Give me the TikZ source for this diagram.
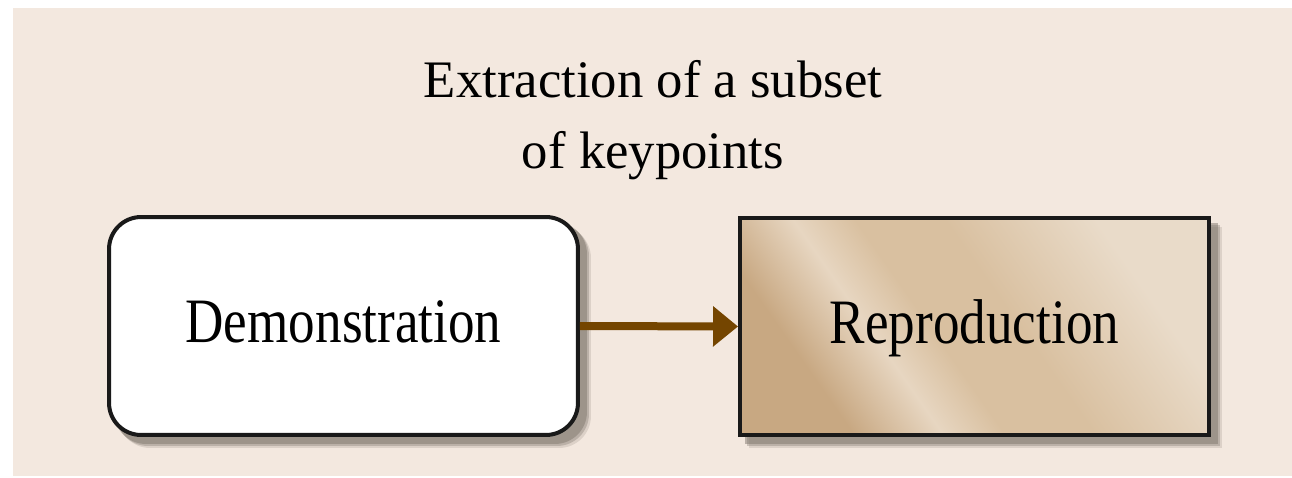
\documentclass[tikz,border=0pt]{standalone}
\usepackage{fontspec}
\setmainfont{Liberation Serif}
\usetikzlibrary{calc,positioning,arrows.meta,backgrounds}

\definecolor{paper}{RGB}{243,232,223}
\definecolor{arrowbrown}{RGB}{116,69,0}
\definecolor{tanA}{RGB}{200,168,130}
\definecolor{tanB}{RGB}{231,214,193}
\definecolor{tanC}{RGB}{217,192,160}
\definecolor{tanD}{RGB}{233,219,201}
\definecolor{boxshadow}{RGB}{128,120,110}
\pgfdeclarehorizontalshading{metal}{100bp}{color(0bp)=(tanA); color(28bp)=(tanA); color(38bp)=(tanB); color(45bp)=(tanC); color(55bp)=(tanC); color(72bp)=(tanD); color(100bp)=(tanD)}

\tikzset{
    stage/.style={draw=black!90, line width=0.08cm, minimum width=9.38cm, minimum height=4.36cm,
        text height=26pt, text depth=7pt, font=\fontsize{36}{40}\selectfont},
    demobox/.style={stage, fill=white, rounded corners=0.64cm},
    reprobox/.style={stage, shading=metal, shading angle=35},
    flow/.style={arrowbrown, line width=0.16cm, -{Triangle[length=0.5cm,width=0.78cm]}}
}

\begin{document}
\begin{tikzpicture}[x=0.02cm,y=-0.02cm]
        \useasboundingbox (0,0) rectangle (1292,477);

        \node[align=center, font=\fontsize{30}{40.5}\selectfont] (title) at (653,120)
            {Extraction of a subset\\of keypoints};
        \node[demobox] (demo) at (343.5,326) {\scalebox{0.84}[1]{Demonstration}};
        \node[reprobox] (repro) at (974.5,326.5) {\scalebox{0.84}[1]{Reproduction}};

        \draw[flow] (demo.east) -- (repro.west);

        \begin{scope}[on background layer]
            \fill[paper] (13,8) rectangle (1292,476);
            \foreach \o/\a in {11/0.2,9/0.35,7/0.5}
            {
                \fill[boxshadow, opacity=\a, rounded corners=0.64cm]
                    ($(demo.south west)+(\o,\o)$) rectangle ($(demo.north east)+(\o,\o)$);
                \fill[boxshadow, opacity=\a]
                    ($(repro.south west)+(\o,\o)$) rectangle ($(repro.north east)+(\o,\o)$);
            };
        \end{scope}
\end{tikzpicture}
\end{document}
